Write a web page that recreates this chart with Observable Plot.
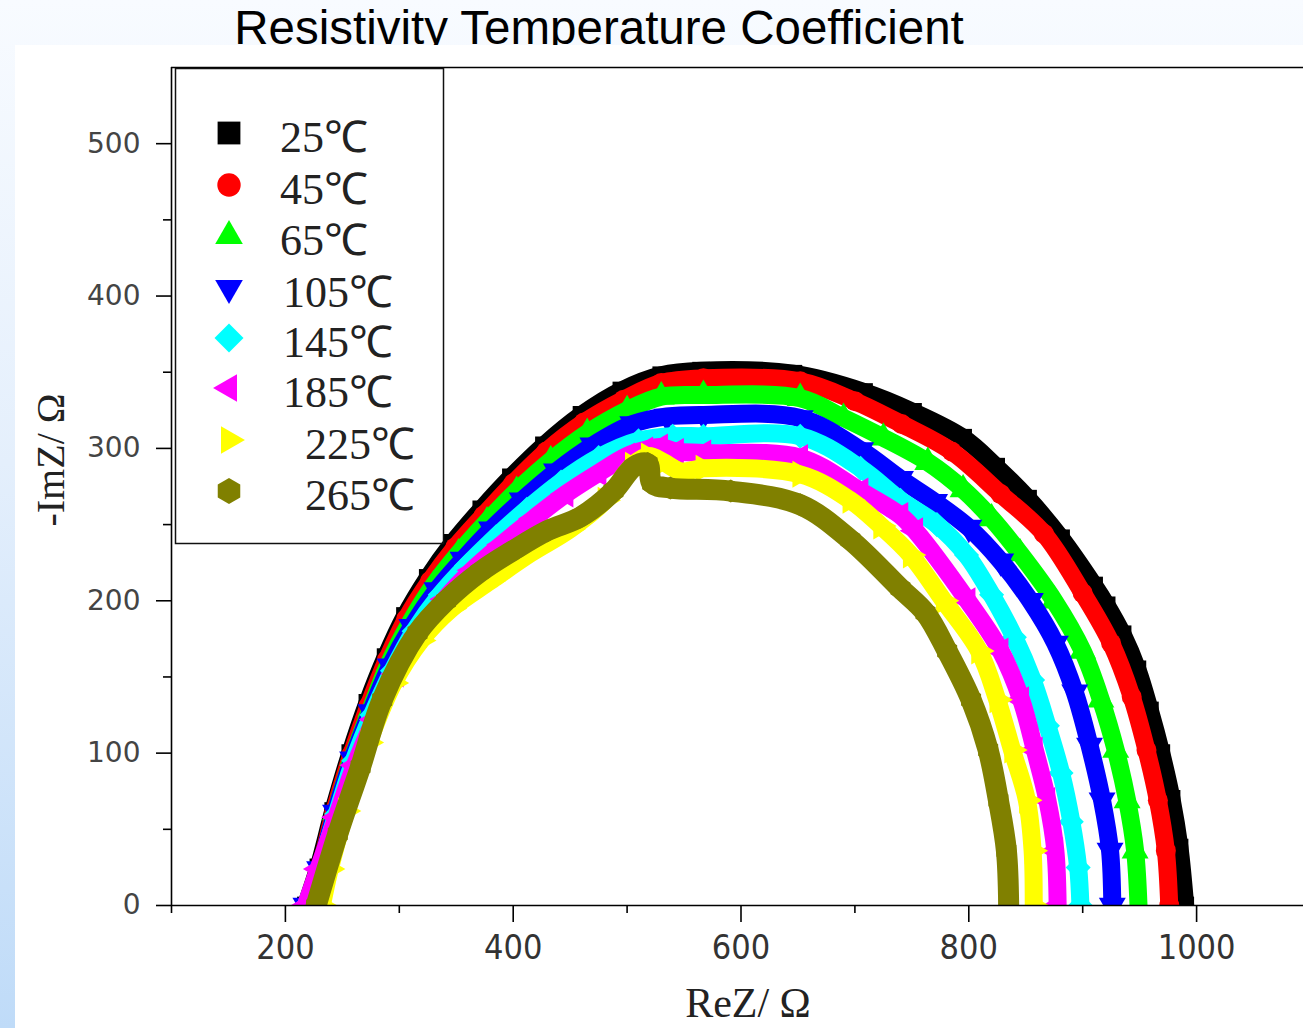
<!DOCTYPE html>
<html>
<head>
<meta charset="utf-8">
<script src="https://cdn.jsdelivr.net/npm/d3@7"></script>
<script src="https://cdn.jsdelivr.net/npm/@observablehq/plot@0.6"></script>
<style>
  html, body { margin: 0; padding: 0; }
  body { width: 1303px; height: 1028px; overflow: hidden; position: relative;
         background: linear-gradient(to bottom, #f8fbff 0%, #e4effc 45%, #bfdbf8 100%); }
  #panel { position: absolute; left: 15px; top: 45px; width: 1288px; height: 983px; background: #fff; }
  #title { position: absolute; left: 0; top: 0; }
  #chart { position: absolute; left: 0; top: 0; }
  #overlay { position: absolute; left: 0; top: 0; pointer-events: none; }
</style>
</head>
<body>
<svg id="title" width="1303" height="45">
  <text x="599" y="44" text-anchor="middle" font-family="Liberation Sans, Arial, sans-serif" font-size="47.5" fill="#000">Resistivity Temperature Coefficient</text>
</svg>
<div id="panel"></div>
<div id="chart"></div>
<svg id="overlay" width="1303" height="1028"></svg>
<script>
// ---- data (ReZ, -ImZ) in ohms ----
const labels = ["25℃", "45℃", "65℃", "105℃", "145℃", "185℃", "225℃", "265℃"];
const colors = ["#000000", "#ff0000", "#00ff00", "#0000ff", "#00ffff", "#ff00ff", "#ffff00", "#808000"];
const symbols = ["square", "circle", "triangle", "triangle", "square", "triangle", "triangle", "hexagon"];
const rotations = [0, 0, 0, 180, 45, -90, 90, 0];
const bandWidths = [18, 18, 18, 18, 18, 18, 18, 21];

const t25 = [[218,0],[229,25],[242,62],[257,100],[272,133],[288,163],[305,190],[325,215],[347,238],[372,260],[398,281],[427,302],[460,322],[495,338],[530,348],[565,351],[646,349],[708,337],[751,324],[795,307],[824,288],[852,267],[881,241],[910,210],[921,197],[935,178],[948,155],[959,128],[969,100],[978,70],[985,38],[990,0]];
const t45 = [[218,0],[230,24],[243,62],[258,99],[273,131],[289,161],[306,188],[327,213],[349,235],[374,256],[400,277],[429,298],[462,317],[497,332],[530,343],[567,346],[652,344],[700,331],[741,316],[785,298],[828,270],[866,244],[900,205],[925,172],[943,137],[956,102],[966,69],[973,36],[976,0]];
const t65 = [[219,0],[231,24],[244,61],[259,97],[275,129],[291,159],[309,185],[330,210],[352,231],[377,252],[403,272],[433,292],[465,310],[500,325],[530,334],[567,335],[652,333],[690,320],[725,307],[764,291],[795,273],[820,254],[845,231],[875,200],[900,167],[916,135],[929,102],[939,69],[946,36],[949,0]];
const t105 = [[218,0],[230,24],[244,61],[259,96],[275,127],[292,157],[311,183],[333,207],[356,227],[381,247],[408,266],[438,285],[470,302],[505,316],[535,321],[567,322],[652,320],[705,299],[740,280],[770,265],[800,248],[828,226],[854,200],[876,172],[893,140],[906,105],[917,69],[924,36],[926,0]];
const t145 = [[218,0],[230,24],[245,60],[260,95],[276,125],[294,154],[313,180],[336,204],[359,223],[385,242],[412,260],[442,278],[475,294],[510,305],[540,308],[567,308],[652,308],[705,287],[740,266],[772,250],[798,230],[820,204],[840,176],[856,148],[869,118],[881,87],[890,55],[896,25],[898,0]];
const t185 = [[218,0],[229,24],[245,58],[261,92],[278,122],[297,152],[317,178],[340,201],[364,220],[390,237],[418,254],[446,270],[475,284],[500,295],[516,299],[529,301],[543,298],[567,297],[652,294],[705,272],[740,256],[753,246],[799,200],[828,167],[846,135],[858,102],[869,69],[876,36],[878,0]];
const t225 = [[232,0],[239,24],[253,62],[273,107],[295,146],[319,174],[346,195],[380,213],[415,231],[450,247],[481,266],[505,289],[519,295],[532,291],[547,285],[567,287],[652,283],[696,266],[723,249],[749,230],[778,200],[809,167],[825,135],[838,102],[851,69],[856,36],[857,0]];
const t265 = [[227,0],[246,47],[266,91],[285,135],[316,179],[341,200],[371,219],[400,233],[430,246],[459,255],[488,272],[506,288],[518,290],[522,277],[538,274],[591,272],[652,263],[696,240],[740,208],[762,192],[781,167],[802,135],[817,102],[826,69],[833,36],[835,0]];
const curves = [t25, t45, t65, t105, t145, t185, t225, t265];

const xMajor = [200, 400, 600, 800, 1000];
const xMinor = [100, 300, 500, 700, 900, 1100];
const yMajor = [0, 100, 200, 300, 400, 500];
const yMinor = [50, 150, 250, 350, 450];

// ---- chart ----
const marks = [];
curves.forEach((data, i) => {
  marks.push(Plot.line(data, {x: d => d[0], y: d => d[1], stroke: colors[i], strokeWidth: bandWidths[i],
    curve: "catmull-rom", strokeLinejoin: "round", strokeLinecap: "round", clip: true}));
  marks.push(Plot.dot(data, {x: d => d[0], y: d => d[1], symbol: symbols[i], rotate: rotations[i],
    r: 10, fill: colors[i], stroke: "none", clip: true}));
});
marks.push(
  Plot.ruleY([0], {stroke: "#000", strokeWidth: 1.6}),
  Plot.ruleY([550], {stroke: "#000", strokeWidth: 1.6}),
  Plot.ruleX([100], {stroke: "#000", strokeWidth: 1.6}),
  Plot.axisX(xMajor, {tickSize: 17, tickPadding: 12, strokeWidth: 1.6, stroke: "#000", fill: "#333",
    tickFormat: d3.format("d"),
    fontSize: 34, fontFamily: "Liberation Sans Narrow, DejaVu Sans Condensed, sans-serif", label: null}),
  Plot.axisX(xMinor, {tickSize: 8, strokeWidth: 1.6, stroke: "#000", tickFormat: () => "", label: null}),
  Plot.axisY(yMajor, {tickSize: 15, tickPadding: 16, strokeWidth: 1.6, stroke: "#000", fill: "#444",
    tickFormat: d3.format("d"),
    fontSize: 28, fontFamily: "DejaVu Sans, sans-serif", label: null}),
  Plot.axisY(yMinor, {tickSize: 8, strokeWidth: 1.6, stroke: "#000", tickFormat: () => "", label: null})
);

const chart = Plot.plot({
  width: 1320, height: 1028,
  marginLeft: 171, marginRight: 10, marginTop: 67, marginBottom: 123,
  x: {domain: [100, 1100]},
  y: {domain: [0, 550]},
  style: {background: "transparent", maxWidth: "none", overflow: "visible"},
  marks
});
document.getElementById("chart").appendChild(chart);

// ---- legend and axis titles ----
const ov = d3.select("#overlay");
ov.append("text").attr("x", 748).attr("y", 1017).attr("text-anchor", "middle")
  .attr("font-family", "Liberation Serif, serif").attr("font-size", 42).attr("fill", "#222").text("ReZ/ Ω");
ov.append("text").attr("transform", "translate(64,460) rotate(-90)").attr("text-anchor", "middle")
  .attr("font-family", "Liberation Serif, serif").attr("font-size", 40).attr("fill", "#222").text("-ImZ/ Ω");

const lg = ov.append("g");
lg.append("rect").attr("x", 175.5).attr("y", 68.5).attr("width", 268).attr("height", 475)
  .attr("fill", "none").attr("stroke", "#111").attr("stroke-width", 1.5);
const rowY = [133, 185, 236, 288, 338, 388, 440, 491];
const textX = [280, 280, 280, 283, 283, 283, 305, 305];
const hexPath = r => {
  const p = d3.path();
  for (let k = 0; k < 6; k++) {
    const a = Math.PI / 2 + k * Math.PI / 3;
    const px = r * Math.cos(a), py = r * Math.sin(a);
    if (k === 0) p.moveTo(px, py); else p.lineTo(px, py);
  }
  p.closePath();
  return p.toString();
};
const legendShape = [
  d3.symbol(d3.symbolSquare, 520)(),
  d3.symbol(d3.symbolCircle, 430)(),
  d3.symbol(d3.symbolTriangle, 330)(),
  d3.symbol(d3.symbolTriangle, 330)(),
  d3.symbol(d3.symbolSquare, 420)(),
  d3.symbol(d3.symbolTriangle, 330)(),
  d3.symbol(d3.symbolTriangle, 330)(),
  hexPath(13)
];
labels.forEach((lab, i) => {
  lg.append("path").attr("d", legendShape[i]).attr("fill", colors[i])
    .attr("transform", `translate(229,${rowY[i]}) rotate(${rotations[i]})`);
  lg.append("text").attr("x", textX[i]).attr("y", rowY[i] + 19)
    .attr("font-family", "Liberation Serif, serif").attr("font-size", 44).attr("fill", "#222").text(lab);
});
</script>
</body>
</html>
